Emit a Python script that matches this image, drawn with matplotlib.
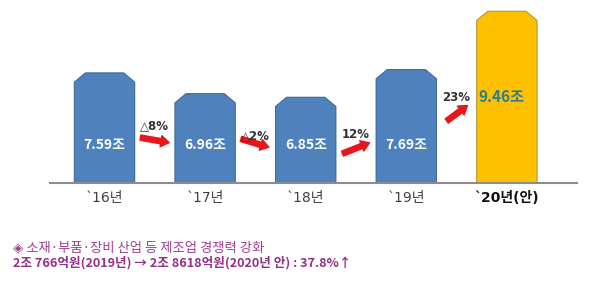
import matplotlib.pyplot as plt
from matplotlib.patches import Polygon, FancyArrowPatch

plt.rcParams['font.family'] = ['Noto Sans CJK KR', 'DejaVu Sans']
latin_first = ['DejaVu Sans', 'Noto Sans CJK KR']

# 데이터
years = ['`16년', '`17년', '`18년', '`19년', '`20년(안)']
values = [7.59, 6.96, 6.85, 7.69, 9.46]
value_labels = ['7.59조', '6.96조', '6.85조', '7.69조', '9.46조']
growth = ['△8%', '△2%', '12%', '23%']
bar_colors = ['#4F81BD', '#4F81BD', '#4F81BD', '#4F81BD', '#FFC000']
edge_colors = ['#3D6A9E', '#3D6A9E', '#3D6A9E', '#3D6A9E', '#A89A3A']

fig = plt.figure(figsize=(6, 2.84), dpi=100)
ax = fig.add_axes([50/600, 101/284, 527/600, 178/284])

ybot = 4.25
ax.set_xlim(-0.542, 4.697)
ax.set_ylim(ybot, 9.65)

# 모서리를 깎은 막대
w, cx, cy = 0.6, 0.11, 0.28
for i, v in enumerate(values):
    x0, x1 = i - w/2, i + w/2
    pts = [(x0, ybot), (x0, v - cy), (x0 + cx, v), (x1 - cx, v), (x1, v - cy), (x1, ybot)]
    ax.add_patch(Polygon(pts, closed=True, facecolor=bar_colors[i],
                         edgecolor=edge_colors[i], linewidth=0.8, zorder=2))

# 막대 안 값
for i, lab in enumerate(value_labels[:4]):
    ax.text(i, 5.4, lab, ha='center', va='center', color='white',
            fontsize=10, fontweight='bold', zorder=3)
ax.text(3.95, 6.87, value_labels[4], ha='center', va='center', color='#2A7F8E',
        fontsize=11, fontweight='bold', zorder=3)

# 증감 화살표
arrows = [((0.33, 5.64), (0.67, 5.46)),
          ((1.33, 5.61), (1.66, 5.31)),
          ((2.34, 5.11), (2.66, 5.5)),
          ((3.38, 6.08), (3.63, 6.65))]
label_pos = [(0.5, 5.98), (1.5, 5.68), (2.5, 5.72), (3.5, 6.84)]
for (a, b), g, (lx, ly) in zip(arrows, growth, label_pos):
    ax.add_patch(FancyArrowPatch(a, b, arrowstyle='simple,head_width=8,head_length=6,tail_width=3.8',
                                 mutation_scale=1, color='#E8151B', zorder=3))
    ax.text(lx, ly, g, ha='center', va='center', fontsize=8.5,
            fontweight='bold', color='#333333', family=latin_first)

# 축
ax.set_xticks(range(len(years)))
ax.set_xticklabels(years, fontsize=10, color='#404040', family=latin_first)
ax.get_xticklabels()[-1].set_fontweight('bold')
ax.get_xticklabels()[-1].set_color('#111111')
ax.tick_params(axis='x', length=0, pad=6)
ax.set_yticks([])
for s in ['left', 'right', 'top']:
    ax.spines[s].set_visible(False)
ax.spines['bottom'].set_color('#8C8C8C')
ax.spines['bottom'].set_linewidth(1.5)

# 하단 설명
fig.text(13/600, 0.130, '◈ 소재·부품·장비 산업 등 제조업 경쟁력 강화',
         fontsize=9.6, color='#A0408F', va='center', ha='left')
fig.text(13/600, 0.074, '2조 766억원(2019년) → 2조 8618억원(2020년 안) : 37.8%↑',
         fontsize=9.1, color='#952E86', fontweight='bold', va='center', ha='left')

plt.savefig('out.png', dpi=100)
